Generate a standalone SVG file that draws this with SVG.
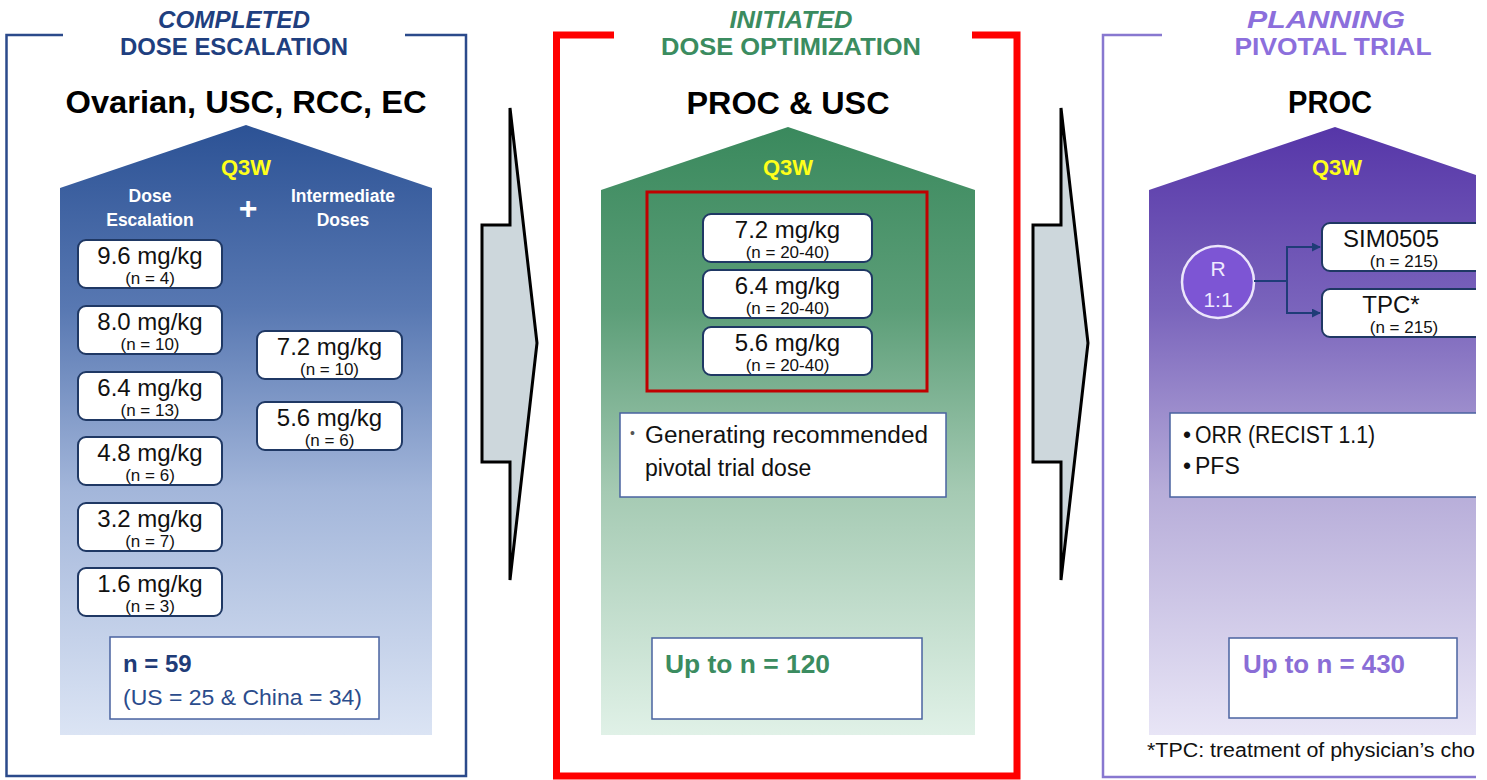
<svg xmlns="http://www.w3.org/2000/svg" width="1487" height="780" viewBox="0 0 1487 780">
<style>
text{font-family:"Liberation Sans",Arial,sans-serif}
.b{font-weight:bold}
.mid{text-anchor:middle}
.ttl{font-size:24px;font-weight:bold;text-anchor:middle}
.big{font-size:32px;font-weight:bold;text-anchor:middle;fill:#000}
.q3w{font-size:22px;font-weight:bold;text-anchor:middle;fill:#ffff1a}
.hdr{font-size:17.5px;font-weight:bold;text-anchor:middle;fill:#fff}
.plus{font-size:32px;font-weight:bold;text-anchor:middle;fill:#fff}
.dose{font-size:24px;text-anchor:middle;fill:#111}
.nn{font-size:17px;text-anchor:middle;fill:#111}
.box{fill:#fff;stroke:#1f3864;stroke-width:2}
.sum{fill:#fff;stroke:#4a63a0;stroke-width:1.5}
.arr{fill:#cdd7dc;stroke:#000;stroke-width:3;stroke-linejoin:miter}
.lnk{fill:none;stroke:#1f3c78;stroke-width:2}
</style>
<defs>
<linearGradient id="gBlue" x1="0" y1="0" x2="0" y2="1">
<stop offset="0" stop-color="#2c5295"/>
<stop offset="0.3" stop-color="#5878b2"/>
<stop offset="0.6" stop-color="#a3b6da"/>
<stop offset="1" stop-color="#dbe4f4"/>
</linearGradient>
<linearGradient id="gGreen" x1="0" y1="0" x2="0" y2="1">
<stop offset="0" stop-color="#3a895d"/>
<stop offset="0.3" stop-color="#5c9e78"/>
<stop offset="0.6" stop-color="#a5cab3"/>
<stop offset="1" stop-color="#e0f1e7"/>
</linearGradient>
<linearGradient id="gPurple" x1="0" y1="0" x2="0" y2="1">
<stop offset="0" stop-color="#5636a8"/>
<stop offset="0.3" stop-color="#7a64bc"/>
<stop offset="0.6" stop-color="#b7add9"/>
<stop offset="1" stop-color="#e8e5f6"/>
</linearGradient>
<clipPath id="clipR"><rect x="0" y="0" width="1476" height="780"/></clipPath>
<marker id="ah" viewBox="0 0 10 10" refX="9" refY="5" markerWidth="4.5" markerHeight="4.5" orient="auto">
<path d="M0,0 L10,5 L0,10 z" fill="#1f3c78"/>
</marker>
</defs>
<rect width="1487" height="780" fill="#fff"/>

<!-- Panel 1 -->
<g id="panel-escalation">
<path d="M63,35 H6.5 V776 H466 V35 H405" fill="none" stroke="#2b4a8b" stroke-width="2.5"/>
<text x="234" y="28" class="ttl" font-style="italic" fill="#1f3f7f" textLength="152" lengthAdjust="spacingAndGlyphs">COMPLETED</text>
<text x="234" y="55" class="ttl" fill="#1f3f7f" textLength="228" lengthAdjust="spacingAndGlyphs">DOSE ESCALATION</text>
<text x="246" y="113" class="big" textLength="361" lengthAdjust="spacingAndGlyphs">Ovarian, USC, RCC, EC</text>
<polygon points="246,125 432,188 432,735 60,735 60,188" fill="url(#gBlue)"/>
<text x="246" y="175" class="q3w">Q3W</text>
<text x="150" y="202" class="hdr">Dose</text>
<text x="150" y="226" class="hdr">Escalation</text>
<text x="248" y="219" class="plus">+</text>
<text x="343" y="202" class="hdr">Intermediate</text>
<text x="343" y="226" class="hdr">Doses</text>
</g>
<g id="dose-9-6"><rect x="78" y="240" width="144" height="48" rx="8" class="box"/><text x="150" y="264" class="dose">9.6 mg/kg</text><text x="150" y="284" class="nn">(n = 4)</text></g>
<g id="dose-8-0"><rect x="78" y="306" width="144" height="48" rx="8" class="box"/><text x="150" y="330" class="dose">8.0 mg/kg</text><text x="150" y="350" class="nn">(n = 10)</text></g>
<g id="dose-6-4"><rect x="78" y="372" width="144" height="48" rx="8" class="box"/><text x="150" y="396" class="dose">6.4 mg/kg</text><text x="150" y="416" class="nn">(n = 13)</text></g>
<g id="dose-4-8"><rect x="78" y="437" width="144" height="48" rx="8" class="box"/><text x="150" y="461" class="dose">4.8 mg/kg</text><text x="150" y="481" class="nn">(n = 6)</text></g>
<g id="dose-3-2"><rect x="78" y="503" width="144" height="48" rx="8" class="box"/><text x="150" y="527" class="dose">3.2 mg/kg</text><text x="150" y="547" class="nn">(n = 7)</text></g>
<g id="dose-1-6"><rect x="78" y="568" width="144" height="48" rx="8" class="box"/><text x="150" y="592" class="dose">1.6 mg/kg</text><text x="150" y="612" class="nn">(n = 3)</text></g>
<g id="dose-7-2-int"><rect x="257" y="331" width="145" height="48" rx="8" class="box"/><text x="329.5" y="355" class="dose">7.2 mg/kg</text><text x="329.5" y="375" class="nn">(n = 10)</text></g>
<g id="dose-5-6-int"><rect x="257" y="402" width="145" height="48" rx="8" class="box"/><text x="329.5" y="426" class="dose">5.6 mg/kg</text><text x="329.5" y="446" class="nn">(n = 6)</text></g>
<g id="summary-59">
<rect x="110" y="637" width="269" height="82" class="sum"/>
<text x="123" y="672" class="b" font-size="24px" fill="#1f3c78">n = 59</text>
<text x="123" y="705" font-size="22.5px" fill="#2b4c8c" textLength="239" lengthAdjust="spacingAndGlyphs">(US = 25 &amp; China = 34)</text>
</g>

<!-- Panel 2 -->
<g id="panel-optimization">
<path d="M614,35 H556.5 V776 H1017 V35 H972" fill="none" stroke="#ff0000" stroke-width="7"/>
<text x="791" y="28" class="ttl" font-style="italic" fill="#3b8c60" textLength="123" lengthAdjust="spacingAndGlyphs">INITIATED</text>
<text x="791" y="55" class="ttl" fill="#3b8c60" textLength="260" lengthAdjust="spacingAndGlyphs">DOSE OPTIMIZATION</text>
<text x="788" y="114" class="big" textLength="203" lengthAdjust="spacingAndGlyphs">PROC &amp; USC</text>
<polygon points="788,127 975,190 975,735 601,735 601,190" fill="url(#gGreen)"/>
<text x="788" y="175" class="q3w">Q3W</text>
<rect x="647" y="192" width="280" height="199" fill="none" stroke="#c00000" stroke-width="3"/>
</g>
<g id="opt-7-2"><rect x="703" y="214" width="169" height="48" rx="8" class="box"/><text x="787.5" y="238" class="dose">7.2 mg/kg</text><text x="787.5" y="258" class="nn">(n = 20-40)</text></g>
<g id="opt-6-4"><rect x="703" y="270" width="169" height="48" rx="8" class="box"/><text x="787.5" y="294" class="dose">6.4 mg/kg</text><text x="787.5" y="314" class="nn">(n = 20-40)</text></g>
<g id="opt-5-6"><rect x="703" y="327" width="169" height="48" rx="8" class="box"/><text x="787.5" y="351" class="dose">5.6 mg/kg</text><text x="787.5" y="371" class="nn">(n = 20-40)</text></g>
<g id="opt-goal">
<rect x="620" y="413" width="326" height="84" class="sum"/>
<text x="630" y="438" font-size="14px" fill="#555">•</text>
<text x="645" y="443" font-size="23px" fill="#111" textLength="283" lengthAdjust="spacingAndGlyphs">Generating recommended</text>
<text x="645" y="476" font-size="23px" fill="#111">pivotal trial dose</text>
</g>
<g id="summary-120">
<rect x="652" y="638" width="270" height="81" class="sum"/>
<text x="665" y="673" class="b" font-size="25px" fill="#3b8c60" textLength="165" lengthAdjust="spacingAndGlyphs">Up to n = 120</text>
</g>

<!-- Panel 3 -->
<g id="panel-pivotal" clip-path="url(#clipR)">
<path d="M1162,35 H1103 V777 H1500" fill="none" stroke="#8878d0" stroke-width="2.5"/>
<text x="1326" y="28" class="ttl" font-style="italic" fill="#8c6fdc" textLength="158" lengthAdjust="spacingAndGlyphs">PLANNING</text>
<text x="1333" y="55" class="ttl" fill="#8c6fdc" textLength="197" lengthAdjust="spacingAndGlyphs">PIVOTAL TRIAL</text>
<text x="1330" y="113" class="big" textLength="84" lengthAdjust="spacingAndGlyphs">PROC</text>
<polygon points="1335,127 1520,190 1520,735 1149,735 1149,190" fill="url(#gPurple)"/>
<text x="1337" y="175" class="q3w">Q3W</text>
<g id="rand">
<circle cx="1218" cy="282" r="36" fill="#7d55d4" stroke="#ece6fb" stroke-width="2.5"/>
<text x="1218" y="276" class="mid" font-size="21px" fill="#efeaff">R</text>
<text x="1218" y="307" class="mid" font-size="21px" fill="#efeaff">1:1</text>
</g>
<g id="arm-sim0505"><rect x="1322" y="223" width="200" height="48" rx="8" class="box"/><text x="1391" y="247" class="dose">SIM0505</text><text x="1404" y="267" class="nn">(n = 215)</text></g>
<g id="arm-tpc"><rect x="1322" y="289" width="200" height="48" rx="8" class="box"/><text x="1391" y="313" class="dose">TPC*</text><text x="1404" y="333" class="nn">(n = 215)</text></g>
<g id="endpoints">
<rect x="1170" y="413" width="340" height="84" class="sum"/>
<text x="1183" y="443" font-size="23px" fill="#111">•</text>
<text x="1195" y="443" font-size="23px" fill="#111" textLength="180" lengthAdjust="spacingAndGlyphs">ORR (RECIST 1.1)</text>
<text x="1183" y="474" font-size="23px" fill="#111">•</text>
<text x="1195" y="474" font-size="23px" fill="#111">PFS</text>
</g>
<g id="summary-430">
<rect x="1229" y="638" width="228" height="80" class="sum"/>
<text x="1243" y="673" class="b" font-size="25px" fill="#8a6dd6" textLength="162" lengthAdjust="spacingAndGlyphs">Up to n = 430</text>
</g>
<text x="1147" y="757" font-size="20px" fill="#111" textLength="328" lengthAdjust="spacingAndGlyphs">*TPC: treatment of physician’s cho</text>
</g>

<!-- Connectors -->
<g id="connectors">
<polygon class="arr" points="510,108 537,343 510,580 510,462 482,462 482,225 510,225"/>
<polygon class="arr" points="1061,108 1088,343 1061,580 1061,462 1033,462 1033,225 1061,225"/>
<path class="lnk" d="M1254,281 H1287 M1287,246 V314"/>
<path class="lnk" d="M1286,247 H1320" marker-end="url(#ah)"/>
<path class="lnk" d="M1286,313 H1320" marker-end="url(#ah)"/>
</g>
</svg>
